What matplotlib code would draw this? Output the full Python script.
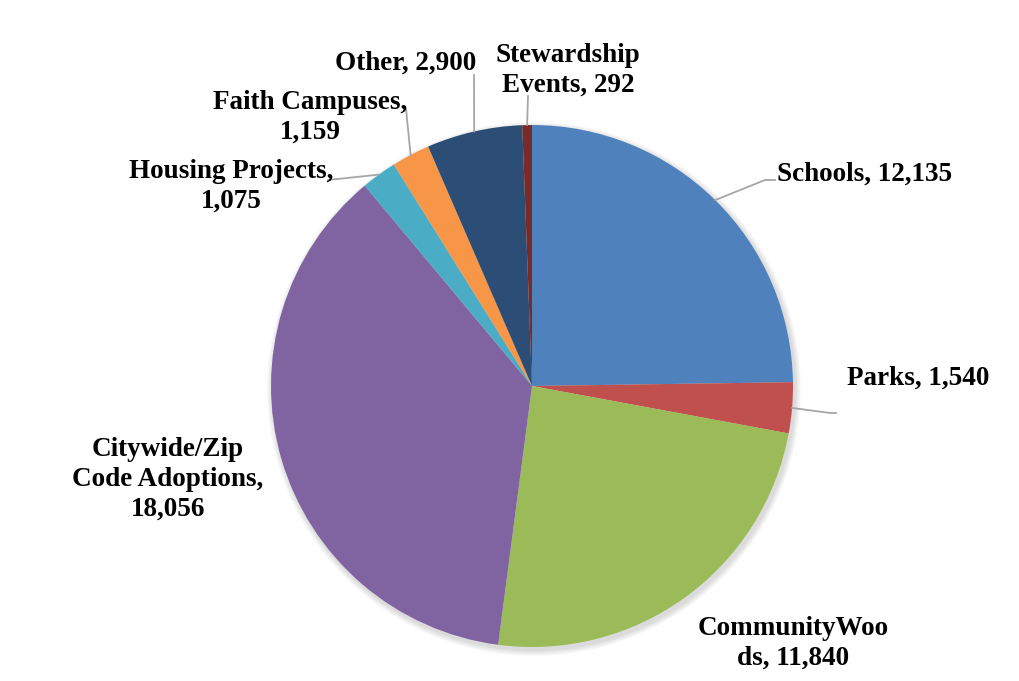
import numpy as np
import matplotlib.pyplot as plt
from matplotlib.patches import Circle

# Data
categories = ["Schools", "Parks", "CommunityWoods", "Citywide/Zip Code Adoptions",
              "Housing Projects", "Faith Campuses", "Other", "Stewardship Events"]
values = [12135, 1540, 11840, 18056, 1075, 1159, 2900, 292]
label_texts = ["Schools, 12,135", "Parks, 1,540", "CommunityWoo\nds, 11,840",
               "Citywide/Zip\nCode Adoptions,\n18,056", "Housing Projects,\n1,075",
               "Faith Campuses,\n1,159", "Other, 2,900", "Stewardship\nEvents, 292"]
colors = ["#4F81BD", "#C0504D", "#9BBB59", "#8064A2",
          "#4BACC6", "#F79646", "#2C4D75", "#772C2A"]

# Layout (pixel coordinates, y measured from top)
W, H = 1019, 681
cx, cy, r = 532, 386, 261
label_pos = [(865, 174), (918, 378), (793, 643), (168, 479),
             (231, 186), (310, 117), (406, 63), (568, 70)]
# leader line end points (None = no leader)
leader_end = [[(765, 180), (775, 180)], [(830, 413), (836, 413)], None, None,
              [(328, 180)], [(406, 109)], [(474, 75)], [(528, 96)]]

fig = plt.figure(figsize=(W / 100, H / 100), dpi=100)
ax = fig.add_axes([0, 0, 1, 1])

# soft shadow
for k in range(6):
    ax.add_patch(Circle((cx + 2, H - cy - 3), r + 1 + k, color="black",
                        alpha=0.025, zorder=0, lw=0))

wedges, _ = ax.pie(values, colors=colors, startangle=90, counterclock=False,
                   center=(cx, H - cy), radius=r, frame=True,
                   wedgeprops=dict(linewidth=0))
ax.set_xlim(0, W)
ax.set_ylim(0, H)
ax.set_aspect("equal")
ax.axis("off")

for w, txt, (lx, ly), ends in zip(wedges, label_texts, label_pos, leader_end):
    ang = np.deg2rad((w.theta1 + w.theta2) / 2)
    if ends is not None:
        px = cx + r * np.cos(ang)
        py = cy - r * np.sin(ang)
        xs = [px] + [e[0] for e in ends]
        ys = [H - py] + [H - e[1] for e in ends]
        ax.plot(xs, ys, color="#A6A6A6", lw=1.3, zorder=1)
    ax.text(lx, H - ly, txt, ha="center", va="center", fontsize=19.5,
            fontweight="bold", family="Liberation Serif", linespacing=1.26,
            multialignment="center", zorder=3)

fig.savefig("out.png", dpi=100, facecolor="white")
